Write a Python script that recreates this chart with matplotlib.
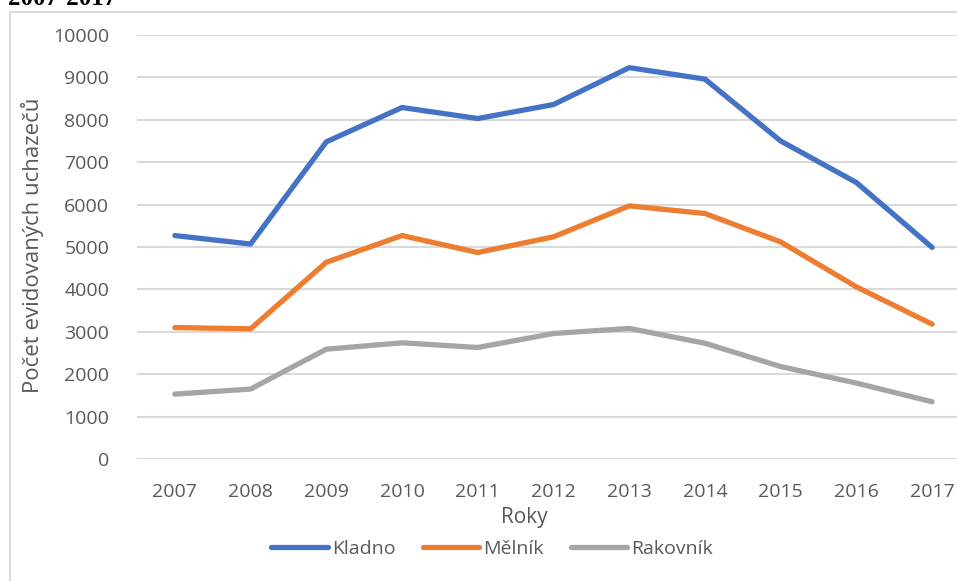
import matplotlib
matplotlib.use("Agg")
import matplotlib.pyplot as plt
from matplotlib.patches import Rectangle
from matplotlib.lines import Line2D

years = [2007, 2008, 2009, 2010, 2011, 2012, 2013, 2014, 2015, 2016, 2017]
kladno = [5270, 5070, 7480, 8290, 8030, 8360, 9230, 8960, 7500, 6520, 4990]
melnik = [3100, 3070, 4640, 5270, 4870, 5240, 5970, 5790, 5120, 4060, 3180]
rakovnik = [1530, 1650, 2590, 2740, 2630, 2960, 3080, 2730, 2180, 1790, 1350]
series_names = ["Kladno", "Mělník", "Rakovník"]
colors = ["#4472C4", "#ED7D31", "#A5A5A5"]
yticks = list(range(0, 10001, 1000))

W, H = 957, 581
fig = plt.figure(figsize=(W / 100, H / 100), dpi=100)
plt.rcParams['font.family'] = ['Open Sans', 'DejaVu Sans']
txt = "#595959"

def fx(px):
    return px / W

def fy(py):
    return 1 - py / H

# chart frame
fig.patches.append(Rectangle((fx(10), fy(700)), fx(1100), fy(12) - fy(700),
                             transform=fig.transFigure, fill=False,
                             edgecolor="#D9D9D9", lw=1.5))

# cut-off title
fig.text(fx(8), fy(5), "2007-2017", family="Liberation Serif", weight="bold",
         fontsize=18, va="baseline", ha="left", color="black")

left, right = 137, 970
top, bottom = 35, 459
ax = fig.add_axes([fx(left), fy(bottom), fx(right - left), fy(top) - fy(bottom)])
x = list(range(len(years)))
for vals, c, n in zip([kladno, melnik, rakovnik], colors, series_names):
    ax.plot(x, vals, color=c, lw=3.8, solid_capstyle="round",
            solid_joinstyle="round", label=n, zorder=3)

ax.set_xlim(-0.5, len(years) - 0.5)
ax.set_ylim(0, 10000)
ax.set_yticks(yticks)
ax.set_yticklabels([str(t) for t in yticks])
ax.set_xticks(x)
ax.set_xticklabels([str(y) for y in years])
ax.grid(axis="y", color="#D9D9D9", lw=1.5, zorder=0)
ax.set_axisbelow(True)
for s in ax.spines.values():
    s.set_visible(False)
ax.tick_params(axis="both", length=0, labelsize=14, colors=txt)
ax.tick_params(axis="y", pad=20)
ax.tick_params(axis="x", pad=17)
ax.patch.set_alpha(0)

fig.text(fx(524), fy(518), "Roky", fontsize=15, color=txt, ha="center", va="center")
fig.text(fx(33), fy(245), "Počet evidovaných uchazečů", fontsize=16, color=txt,
         ha="center", va="center", rotation=90)

handles = [Line2D([], [], color=c, lw=3.8, solid_capstyle="round") for c in colors]
fig.legend(handles, series_names, loc="center", bbox_to_anchor=(fx(492), fy(549)),
           ncol=3, frameon=False, fontsize=14, labelcolor=txt, handlelength=2.9,
           handletextpad=0.2, columnspacing=1.4)

fig.savefig("out.png", dpi=100)
